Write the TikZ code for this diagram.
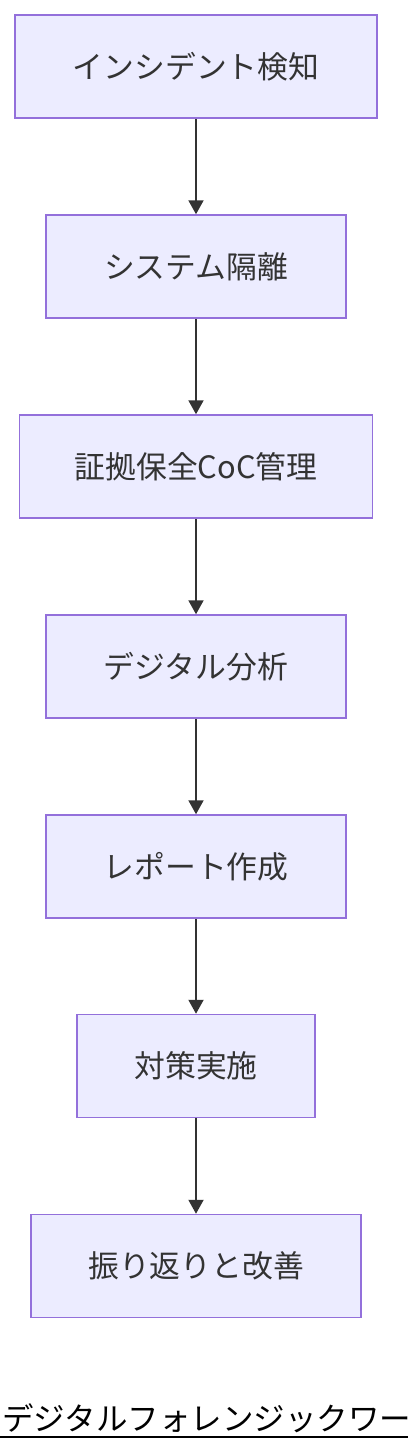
\documentclass[tikz,border=0pt]{standalone}
\usepackage{fontspec}
\setmainfont{Noto Sans CJK JP}
\newfontfamily\titlefont{Noto Sans CJK JP}
\usetikzlibrary{arrows.meta}
\definecolor{boxfill}{HTML}{ECECFF}
\definecolor{boxline}{HTML}{9370DB}
\definecolor{arrowcol}{HTML}{333333}
\begin{document}
\begin{tikzpicture}[x=1pt,y=-1pt,
  stepbox/.style={draw=boxline,fill=boxfill,line width=1.5pt,minimum height=103pt,inner sep=0pt,text=arrowcol,font=\fontsize{30.8}{36}\selectfont,anchor=center},
  flow/.style={draw=arrowcol,line width=2pt,-{Triangle[length=14pt,width=15pt]}}]
\useasboundingbox (0,0) rectangle (408,1452);
\node[stepbox,minimum width=362pt] (n1) at (196,66.5) {インシデント検知};
\node[stepbox,minimum width=300pt] (n2) at (196,266.5) {システム隔離};
\node[stepbox,minimum width=353pt] (n3) at (196,466.5) {証拠保全CoC管理};
\node[stepbox,minimum width=300pt] (n4) at (196,666.5) {デジタル分析};
\node[stepbox,minimum width=300pt] (n5) at (196,866.5) {レポート作成};
\node[stepbox,minimum width=238pt] (n6) at (196,1066) {対策実施};
\node[stepbox,minimum width=330pt] (n7) at (196,1266) {振り返りと改善};
\draw[flow] (n1) -- (n2);
\draw[flow] (n2) -- (n3);
\draw[flow] (n3) -- (n4);
\draw[flow] (n4) -- (n5);
\draw[flow] (n5) -- (n6);
\draw[flow] (n6) -- (n7);
\node[anchor=base west,inner sep=0pt,font=\titlefont\fontsize{31.5}{36}\selectfont] (title) at (2,1430) {デジタルフォレンジックワー};
\coordinate (ul) at (0,1437);
\coordinate (ur) at (408,1437);
\draw[line width=2pt,black] (ul) -- (ur);
\end{tikzpicture}
\end{document}
